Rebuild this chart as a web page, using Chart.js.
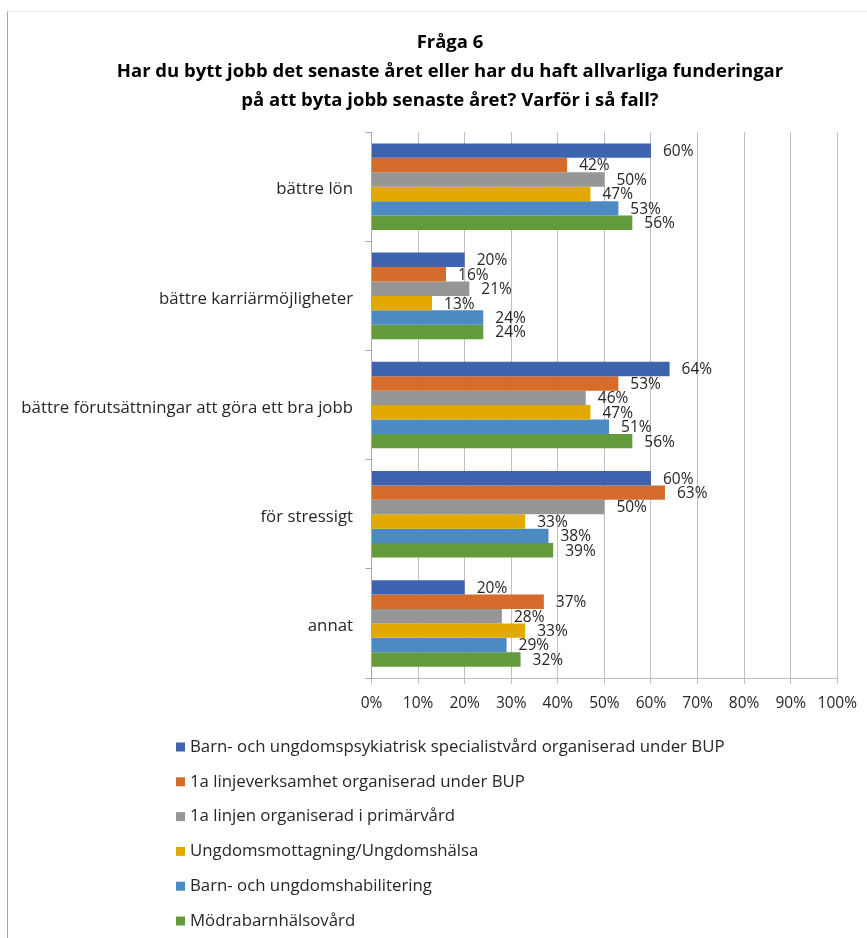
<!DOCTYPE html>
<html>
<head>
<meta charset="utf-8">
<script src="https://cdn.jsdelivr.net/npm/chart.js@4"></script>
<style>
    body { margin: 0; background: #fff; }
    #wrap {
        position: absolute;
        left: 7px;
        top: 11px;
        width: 859px;
        height: 926px;
        border-left: 1px solid #a6a6a6;
        border-top: 1px solid #ededed;
    }
</style>
</head>
<body>
<div id="wrap"><canvas id="fraga6Chart" width="859" height="926"></canvas></div>
<script>
const FONT = '"Open Sans", Lato, "Liberation Sans", sans-serif';

const titleLines = [
    'Fråga 6',
    'Har du bytt jobb det senaste året eller har du haft allvarliga funderingar',
    'på att byta jobb senaste året? Varför i så fall?'
];

const categories = [
    'bättre lön',
    'bättre karriärmöjligheter',
    'bättre förutsättningar att göra ett bra jobb',
    'för stressigt',
    'annat'
];

const seriesNames = [
    'Barn- och ungdomspsykiatrisk specialistvård organiserad under BUP',
    '1a linjeverksamhet organiserad under BUP',
    '1a linjen organiserad i primärvård',
    'Ungdomsmottagning/Ungdomshälsa',
    'Barn- och ungdomshabilitering',
    'Mödrabarnhälsovård'
];

const bupSpecialist = [60, 20, 64, 60, 20];
const bupFirstLine = [42, 16, 53, 63, 37];
const primaryCare = [50, 21, 46, 50, 28];
const youthClinic = [47, 13, 47, 33, 33];
const habilitation = [53, 24, 51, 38, 29];
const maternalCare = [56, 24, 56, 39, 32];

const xTicks = [0, 10, 20, 30, 40, 50, 60, 70, 80, 90, 100];

const seriesValues = [bupSpecialist, bupFirstLine, primaryCare, youthClinic, habilitation, maternalCare];
const seriesColors = ['#3e64af', '#d66c2c', '#969696', '#e2aa00', '#4c8ac3', '#629a3c'];

// the title sits centred over the right-hand part of the canvas
const titleShift = {
    id: 'titleShift',
    afterLayout(chart) {
        chart.titleBlock.left += 54;
    }
};

// percentage labels just past the end of each bar
const valueLabels = {
    id: 'valueLabels',
    afterDatasetsDraw(chart) {
        const ctx = chart.ctx;
        ctx.save();
        ctx.font = '15.5px ' + FONT;
        ctx.fillStyle = '#262626';
        ctx.textAlign = 'left';
        ctx.textBaseline = 'middle';
        chart.data.datasets.forEach((ds, i) => {
            chart.getDatasetMeta(i).data.forEach((bar, j) => {
                ctx.fillText(ds.data[j] + '%', bar.x + 12, bar.y + 1);
            });
        });
        ctx.restore();
    }
};

// one legend entry per row under the x axis
const stackedLegend = {
    id: 'stackedLegend',
    afterDraw(chart) {
        const ctx = chart.ctx;
        const top = chart.chartArea.bottom + 69;
        ctx.save();
        ctx.font = '16.8px ' + FONT;
        ctx.textAlign = 'left';
        ctx.textBaseline = 'middle';
        chart.data.datasets.forEach((ds, i) => {
            const y = top + i * 34.8;
            ctx.fillStyle = ds.backgroundColor;
            ctx.fillRect(168, y - 4.5, 9, 9);
            ctx.fillStyle = '#262626';
            ctx.fillText(ds.label, 182, y);
        });
        ctx.restore();
    }
};

const ctx = document.getElementById('fraga6Chart').getContext('2d');

new Chart(ctx, {
    type: 'bar',
    data: {
        labels: categories,
        datasets: seriesNames.map((name, i) => ({
            label: name,
            data: seriesValues[i],
            backgroundColor: seriesColors[i],
            borderWidth: 0,
            categoryPercentage: 0.793,
            barPercentage: 1.0
        }))
    },
    options: {
        indexAxis: 'y',
        responsive: false,
        animation: false,
        layout: {
            padding: { left: 0, right: 29, top: 0, bottom: 220 }
        },
        plugins: {
            legend: { display: false },
            tooltip: { enabled: false },
            title: {
                display: true,
                text: titleLines,
                color: '#000',
                font: { family: FONT, size: 18.5, weight: 'bold', lineHeight: 1.57 },
                padding: { top: 16, bottom: 17 }
            }
        },
        scales: {
            x: {
                min: 0,
                max: 100,
                afterBuildTicks(scale) {
                    scale.ticks = xTicks.map(v => ({ value: v }));
                },
                afterFit(scale) {
                    scale.height = 40;
                },
                ticks: {
                    callback: v => v + '%',
                    color: '#262626',
                    font: { family: FONT, size: 15.5 },
                    padding: 10,
                    maxRotation: 0
                },
                grid: {
                    color: '#bfbfbf',
                    tickLength: 6,
                    drawTicks: true
                },
                border: { color: '#bfbfbf' }
            },
            y: {
                afterFit(scale) {
                    scale.width = 363.5;
                },
                ticks: {
                    color: '#262626',
                    font: { family: FONT, size: 16.8 },
                    padding: 12.5,
                    labelOffset: 3
                },
                grid: {
                    drawOnChartArea: false,
                    color: '#a6a6a6',
                    tickLength: 6
                },
                border: { color: '#a6a6a6' }
            }
        }
    },
    plugins: [titleShift, valueLabels, stackedLegend]
});
</script>
</body>
</html>
